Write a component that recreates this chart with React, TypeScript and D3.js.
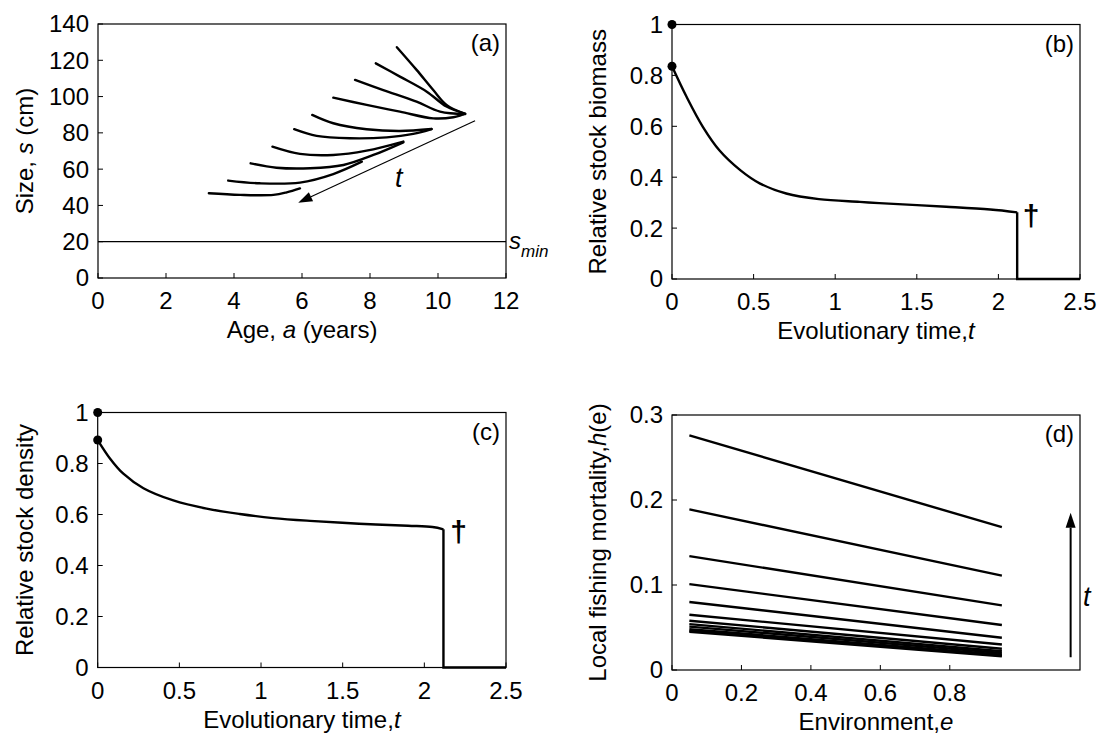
import React from 'react';
import * as d3 from 'd3';

// panel (a): size-at-age curves, one per evolutionary time step
const curveAges = [
  [8.79, 9.37, 9.86, 10.25, 10.75],
  [8.17, 8.88, 9.67, 10.25, 10.8],
  [7.56, 8.39, 9.37, 10.06, 10.8],
  [6.92, 7.9, 8.88, 9.86, 10.45, 10.75],
  [6.3, 6.92, 7.9, 8.88, 9.81],
  [5.77, 6.43, 7.41, 8.49, 9.27, 9.81],
  [5.13, 5.94, 6.92, 7.9, 8.98],
  [4.49, 5.25, 6.24, 7.22, 8.1, 8.98],
  [3.83, 4.76, 5.94, 6.92, 7.76],
  [3.26, 4.18, 5.16, 5.55, 5.94],
];
const curveSizes = [
  [127.2, 114.7, 103.6, 95.4, 90.8],
  [118.3, 111, 102.7, 94.5, 90.6],
  [109.2, 103.6, 97.2, 91.7, 90.4],
  [99.4, 95.4, 91.7, 88.0, 88.6, 90.2],
  [89.9, 85.3, 82.0, 81.0, 82.1],
  [82.0, 78.3, 77.0, 77.5, 79.4, 82.1],
  [72.4, 68.4, 67.8, 70.2, 75.2],
  [63.2, 60.8, 60.5, 62.3, 67.8, 74.8],
  [53.7, 52.2, 52.6, 57.3, 64.1],
  [46.7, 45.8, 45.8, 47.2, 49.4],
];
const sMin = 20;
const arrowA = [[11.09, 86.7], [5.89, 41.5]];

// panel (b): relative stock biomass
const biomassT = [0, 0.09, 0.19, 0.29, 0.42, 0.54, 0.7, 0.9, 1.15, 1.27, 1.68, 1.95, 2.115];
const biomassY = [0.836, 0.715, 0.597, 0.506, 0.427, 0.375, 0.336, 0.314, 0.303, 0.298, 0.284, 0.273, 0.262];

// panel (c): relative stock density
const densityT = [0, 0.075, 0.157, 0.28, 0.463, 0.667, 0.87, 1.075, 1.3, 1.6, 1.9, 2.05, 2.117];
const densityY = [0.892, 0.82, 0.76, 0.703, 0.655, 0.623, 0.602, 0.586, 0.575, 0.564, 0.556, 0.551, 0.542];
const extinctT = 2.5;

// panel (d): local fishing mortality vs environment
const envRange = [0.05, 0.95];
const hLeft = [0.276, 0.189, 0.134, 0.101, 0.08, 0.065, 0.058, 0.054, 0.051, 0.048, 0.046, 0.045];
const hRight = [0.168, 0.111, 0.076, 0.053, 0.038, 0.03, 0.025, 0.022, 0.02, 0.018, 0.017, 0.016];
const arrowD = [[1.148, 0.015], [1.148, 0.185]];

const font = '"Liberation Sans", Arial, Helvetica, sans-serif';
const FS = 24;

type Scale = d3.ScaleLinear<number, number>;

function Panel(props: {
  x: Scale; y: Scale; xTicks: number[]; yTicks: number[];
  xFmt?: (v: number) => string; yFmt?: (v: number) => string;
  xTitle: React.ReactNode; yTitle: React.ReactNode; yTitleX: number; letter: string;
  children?: React.ReactNode;
}) {
  const { x, y, xTicks, yTicks, xTitle, yTitle, yTitleX, letter } = props;
  const fx = props.xFmt || ((v: number) => String(v));
  const fy = props.yFmt || ((v: number) => String(v));
  const [x0, x1] = x.range();
  const [y0, y1] = y.range(); // y0 bottom, y1 top
  return (
    <g>
      {props.children}
      <rect x={x0} y={y1} width={x1 - x0} height={y0 - y1} fill="none" stroke="#000" strokeWidth={1.2} />
      {xTicks.map(v => (
        <g key={'x' + v}>
          <line x1={x(v)} x2={x(v)} y1={y0} y2={y0 - 5} stroke="#000" strokeWidth={1} />
          <text x={x(v)} y={y0 + 31} textAnchor="middle" fontSize={FS}>{fx(v)}</text>
        </g>
      ))}
      {yTicks.map(v => (
        <g key={'y' + v}>
          <line x1={x0} x2={x0 + 5} y1={y(v)} y2={y(v)} stroke="#000" strokeWidth={1} />
          <text x={x0 - 9} y={y(v)} dy="0.35em" textAnchor="end" fontSize={FS}>{fy(v)}</text>
        </g>
      ))}
      <text x={(x0 + x1) / 2} y={y0 + 60} textAnchor="middle" fontSize={FS}>{xTitle}</text>
      <text transform={`translate(${yTitleX},${(y0 + y1) / 2}) rotate(-90)`} dy="0.35em" textAnchor="middle" fontSize={FS}>{yTitle}</text>
      <text x={x1 - 6} y={y1 + 27} textAnchor="end" fontSize={FS}>{letter}</text>
    </g>
  );
}

function Arrow({ p0, p1, head = 14, width = 10, sw = 1.2 }: { p0: number[]; p1: number[]; head?: number; width?: number; sw?: number }) {
  const dx = p1[0] - p0[0], dy = p1[1] - p0[1];
  const len = Math.hypot(dx, dy);
  const ux = dx / len, uy = dy / len;
  const bx = p1[0] - ux * head, by = p1[1] - uy * head;
  const pts = [
    [p1[0], p1[1]],
    [bx - uy * width / 2, by + ux * width / 2],
    [bx + uy * width / 2, by - ux * width / 2],
  ];
  return (
    <g>
      <line x1={p0[0]} y1={p0[1]} x2={bx} y2={by} stroke="#000" strokeWidth={sw} />
      <polygon points={pts.map(p => p.join(',')).join(' ')} fill="#000" />
    </g>
  );
}

export default function App() {
  const xa = d3.scaleLinear().domain([0, 12]).range([98, 506]);
  const ya = d3.scaleLinear().domain([0, 140]).range([278, 24]);
  const xb = d3.scaleLinear().domain([0, 2.5]).range([672, 1080]);
  const yb = d3.scaleLinear().domain([0, 1]).range([279, 24.5]);
  const xc = d3.scaleLinear().domain([0, 2.5]).range([97.7, 506]);
  const yc = d3.scaleLinear().domain([0, 1]).range([667.5, 412.5]);
  const xd = d3.scaleLinear().domain([0, 1.175]).range([672, 1080]);
  const yd = d3.scaleLinear().domain([0, 0.3]).range([670, 415]);

  const smooth = d3.curveCatmullRom.alpha(0.5);
  const lineA = d3.line<[number, number]>().x(d => xa(d[0])).y(d => ya(d[1])).curve(smooth);
  const lineB = d3.line<[number, number]>().x(d => xb(d[0])).y(d => yb(d[1])).curve(smooth);
  const lineC = d3.line<[number, number]>().x(d => xc(d[0])).y(d => yc(d[1])).curve(smooth);
  const linB = d3.line<[number, number]>().x(d => xb(d[0])).y(d => yb(d[1]));
  const linC = d3.line<[number, number]>().x(d => xc(d[0])).y(d => yc(d[1]));
  const lineD = d3.line<[number, number]>().x(d => xd(d[0])).y(d => yd(d[1]));

  const lastB = biomassT.length - 1;
  const lastC = densityT.length - 1;
  const fmt = (v: number) => String(+v.toFixed(2));

  return (
    <svg width={1103} height={738} style={{ position: 'absolute', left: 0, top: 0, background: '#fff' }} fontFamily={font}>
      {/* (a) */}
      <Panel x={xa} y={ya} xTicks={d3.range(0, 13, 2)} yTicks={d3.range(0, 141, 20)}
        xTitle={<>Age, <tspan fontStyle="italic">a</tspan> (years)</>}
        yTitle={<>Size, <tspan fontStyle="italic">s</tspan> (cm)</>} yTitleX={25} letter="(a)">
        <line x1={xa(0)} x2={xa(12)} y1={ya(sMin)} y2={ya(sMin)} stroke="#000" strokeWidth={1.3} />
        {curveAges.map((ages, i) => (
          <path key={i} d={lineA(ages.map((a, j) => [a, curveSizes[i][j]] as [number, number])) || ''}
            fill="none" stroke="#000" strokeWidth={2.4} strokeLinecap="round" />
        ))}
        <Arrow p0={[xa(arrowA[0][0]), ya(arrowA[0][1])]} p1={[xa(arrowA[1][0]), ya(arrowA[1][1])]} />
        <text x={395} y={187} fontSize={27} fontStyle="italic">t</text>
      </Panel>
      <text x={509} y={249} fontSize={FS} fontFamily={font}>
        <tspan fontStyle="italic">s</tspan><tspan fontStyle="italic" fontSize={17} dy={8}>min</tspan>
      </text>

      {/* (b) */}
      <Panel x={xb} y={yb} xTicks={[0, 0.5, 1, 1.5, 2, 2.5]} yTicks={[0, 0.2, 0.4, 0.6, 0.8, 1]} xFmt={fmt} yFmt={fmt}
        xTitle={<>Evolutionary time,<tspan fontStyle="italic">t</tspan></>}
        yTitle="Relative stock biomass" yTitleX={598} letter="(b)">
        <path d={lineB(biomassT.map((t, i) => [t, biomassY[i]] as [number, number])) || ''} fill="none" stroke="#000" strokeWidth={2.4} />
        <path d={linB([[biomassT[lastB], biomassY[lastB]], [biomassT[lastB], 0], [extinctT, 0]]) || ''} fill="none" stroke="#000" strokeWidth={2.4} />
        <circle cx={xb(0)} cy={yb(1)} r={4.5} fill="#000" />
        <circle cx={xb(0)} cy={yb(biomassY[0])} r={4.5} fill="#000" />
        <text x={xb(2.2)} y={yb(0.262) + 14} textAnchor="middle" fontSize={30} fontWeight="bold">†</text>
      </Panel>

      {/* (c) */}
      <Panel x={xc} y={yc} xTicks={[0, 0.5, 1, 1.5, 2, 2.5]} yTicks={[0, 0.2, 0.4, 0.6, 0.8, 1]} xFmt={fmt} yFmt={fmt}
        xTitle={<>Evolutionary time,<tspan fontStyle="italic">t</tspan></>}
        yTitle="Relative stock density" yTitleX={25} letter="(c)">
        <path d={lineC(densityT.map((t, i) => [t, densityY[i]] as [number, number])) || ''} fill="none" stroke="#000" strokeWidth={2.4} />
        <path d={linC([[densityT[lastC], densityY[lastC]], [densityT[lastC], 0], [extinctT, 0]]) || ''} fill="none" stroke="#000" strokeWidth={2.4} />
        <circle cx={xc(0)} cy={yc(1)} r={4.5} fill="#000" />
        <circle cx={xc(0)} cy={yc(densityY[0])} r={4.5} fill="#000" />
        <text x={xc(2.21)} y={yc(0.542) + 13} textAnchor="middle" fontSize={30} fontWeight="bold">†</text>
      </Panel>

      {/* (d) */}
      <Panel x={xd} y={yd} xTicks={[0, 0.2, 0.4, 0.6, 0.8]} yTicks={[0, 0.1, 0.2, 0.3]} xFmt={fmt} yFmt={fmt}
        xTitle={<>Environment,<tspan fontStyle="italic">e</tspan></>}
        yTitle={<>Local fishing mortality,<tspan fontStyle="italic">h</tspan>(e)</>} yTitleX={598} letter="(d)">
        {hLeft.map((h, i) => (
          <path key={i} d={lineD([[envRange[0], h], [envRange[1], hRight[i]]]) || ''} stroke="#000" strokeWidth={2.4} />
        ))}
        <Arrow p0={[xd(arrowD[0][0]), yd(arrowD[0][1])]} p1={[xd(arrowD[1][0]), yd(arrowD[1][1])]} head={15} width={10} sw={2} />
        <text x={1083} y={606} fontSize={27} fontStyle="italic">t</text>
      </Panel>
    </svg>
  );
}
